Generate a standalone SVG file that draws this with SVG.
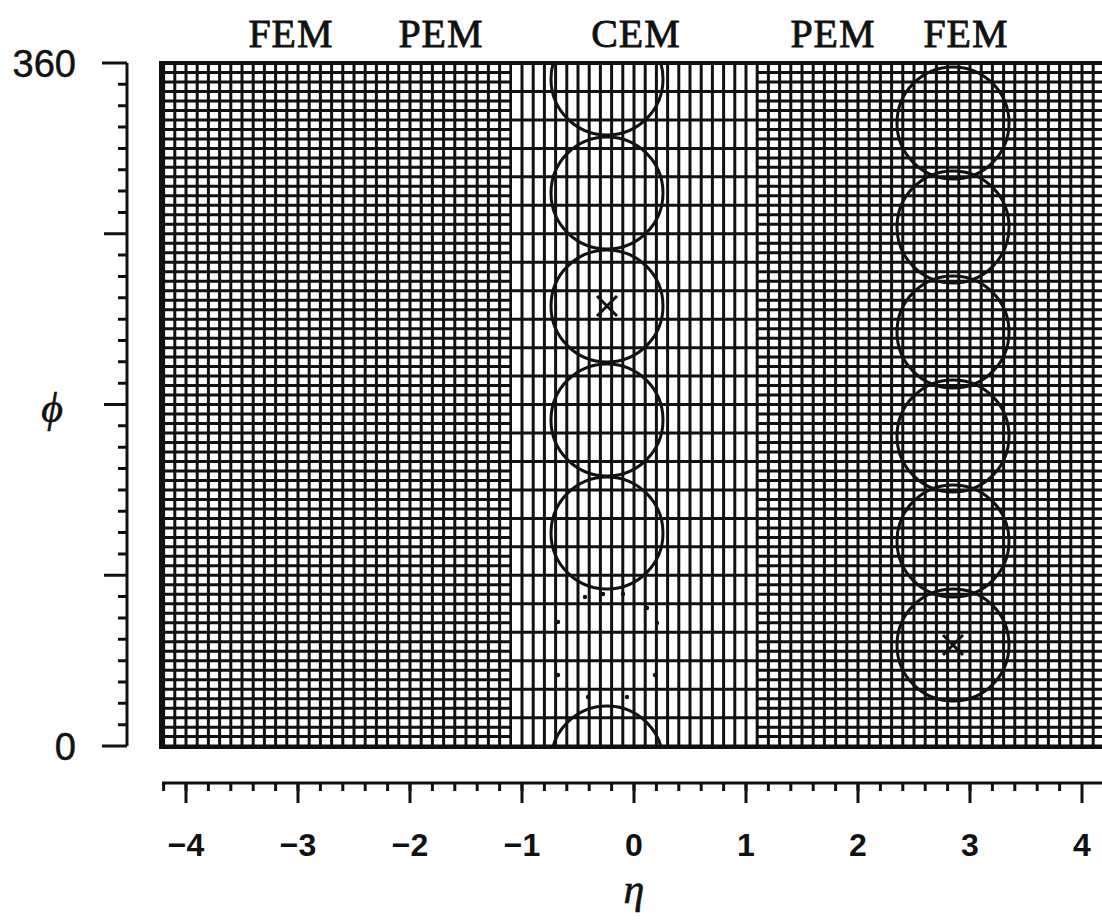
<svg xmlns="http://www.w3.org/2000/svg" width="1102" height="922" viewBox="0 0 1102 922">
<style>
.hl{fill:none;stroke:#111;stroke-dasharray:3 6.4875}
.hc{fill:none;stroke:#111;stroke-dasharray:3 25.4625}
.vl{fill:none;stroke:#111;stroke-width:683;stroke-dasharray:3 8.2}
.ax{fill:none;stroke:#111;stroke-width:3}
.cal{fill:none;stroke:#111;stroke-width:3}
.lab{font-family:"Liberation Serif",serif;font-size:40px;fill:#111;stroke:#111;stroke-width:0.8;letter-spacing:1px}
.num{font-family:"Liberation Sans",Arial,sans-serif;font-weight:bold;font-size:32px;fill:#111}
.ynum{font-family:"Liberation Sans",Arial,sans-serif;font-size:38px;fill:#111;stroke:#111;stroke-width:0.5}
.sym{font-family:"Liberation Serif",serif;font-style:italic;font-size:42px;fill:#111;stroke:#111;stroke-width:0.6}
</style>
<defs>
<clipPath id="plot"><rect x="161" y="63" width="941" height="684"/></clipPath>
</defs>
<rect width="1102" height="922" fill="#fff"/>
<g id="grid" clip-path="url(#plot)">
<path class="vl" d="M162.1 404.5H512"/>
<path class="vl" d="M520.5 404.5H748"/>
<path class="vl" d="M755.7 404.5H1102"/>
<path class="hl" stroke-width="349.8" d="M335.9 61.5V750"/>
<path class="hl" stroke-width="344.8" d="M929.6 61.5V750"/>
<path class="hc" stroke-width="246.4" d="M634 61.5V750"/>
</g>
<rect id="frame" x="161" y="63" width="945" height="684" fill="none" stroke="#111" stroke-width="4"/>
<g id="central-circles" clip-path="url(#plot)">
<circle class="cal" cx="607" cy="79" r="56"/>
<circle class="cal" cx="607" cy="193" r="56"/>
<circle class="cal" cx="607" cy="306" r="56"/>
<circle class="cal" cx="607" cy="420" r="56"/>
<circle class="cal" cx="607" cy="533" r="56"/>
<circle class="cal" cx="607" cy="762" r="56"/>
<path class="cal" stroke-width="3.4" d="M597 296l20 20M617 296l-20 20"/>
</g>
<g id="central-dots" fill="#111">
<circle cx="585" cy="597" r="2.2"/><circle cx="603" cy="594" r="2.2"/><circle cx="623" cy="594" r="2.2"/><circle cx="647" cy="608" r="2.2"/><circle cx="657" cy="623" r="2.2"/><circle cx="558" cy="622" r="2.2"/><circle cx="558" cy="675" r="2.2"/><circle cx="655" cy="675" r="2.2"/><circle cx="588" cy="697" r="2.2"/><circle cx="627" cy="697" r="2.2"/>
</g>
<g id="forward-circles">
<circle class="cal" cx="953" cy="123" r="56"/>
<circle class="cal" cx="953" cy="227" r="56"/>
<circle class="cal" cx="953" cy="332" r="56"/>
<circle class="cal" cx="953" cy="436" r="56"/>
<circle class="cal" cx="953" cy="541" r="56"/>
<circle class="cal" cx="953" cy="645" r="56"/>
<path class="cal" stroke-width="3.4" d="M943 635l20 20M963 635l-20 20"/>
</g>
<g id="region-labels">
<text class="lab" x="291" y="47" text-anchor="middle">FEM</text>
<text class="lab" x="441" y="47" text-anchor="middle">PEM</text>
<text class="lab" x="636" y="47" text-anchor="middle">CEM</text>
<text class="lab" x="833" y="47" text-anchor="middle">PEM</text>
<text class="lab" x="966" y="47" text-anchor="middle">FEM</text>
</g>
<g id="phi-axis">
<path class="ax" d="M127 63V746M102 63h25M102 746h25M104 233.75h23M104 404.5h23M104 575.25h23"/>
<path class="ax" stroke-width="2.5" d="M118 84.34h9M118 105.69h9M118 127.03h9M118 148.38h9M118 169.72h9M118 191.06h9M118 212.41h9M118 255.09h9M118 276.44h9M118 297.78h9M118 319.13h9M118 340.47h9M118 361.81h9M118 383.16h9M118 425.84h9M118 447.19h9M118 468.53h9M118 489.88h9M118 511.22h9M118 532.56h9M118 553.91h9M118 596.59h9M118 617.94h9M118 639.28h9M118 660.63h9M118 681.97h9M118 703.31h9M118 724.66h9"/>
<text class="ynum" x="76" y="77" text-anchor="end">360</text>
<text class="ynum" x="76" y="760" text-anchor="end">0</text>
<text class="sym" x="52" y="422" text-anchor="middle">ϕ</text>
</g>
<g id="eta-axis">
<path class="ax" d="M162 783H1102"/>
<path class="ax" stroke-width="2.5" d="M163.6 783v8m22.4-8v8m22.4-8v8m22.4-8v8m22.4-8v8m22.4-8v8m22.4-8v8m22.4-8v8m22.4-8v8m22.4-8v8m22.4-8v8m22.4-8v8m22.4-8v8m22.4-8v8m22.4-8v8m22.4-8v8m22.4-8v8m22.4-8v8m22.4-8v8m22.4-8v8m22.4-8v8m22.4-8v8m22.4-8v8m22.4-8v8m22.4-8v8m22.4-8v8m22.4-8v8m22.4-8v8m22.4-8v8m22.4-8v8m22.4-8v8m22.4-8v8m22.4-8v8m22.4-8v8m22.4-8v8m22.4-8v8m22.4-8v8m22.4-8v8m22.4-8v8m22.4-8v8m22.4-8v8"/>
<path class="ax" d="M186 783v20M298 783v20M410 783v20M522 783v20M634 783v20M746 783v20M858 783v20M970 783v20M1082 783v20"/>
<text class="num" x="186" y="856" text-anchor="middle">−4</text>
<text class="num" x="298" y="856" text-anchor="middle">−3</text>
<text class="num" x="410" y="856" text-anchor="middle">−2</text>
<text class="num" x="522" y="856" text-anchor="middle">−1</text>
<text class="num" x="634" y="856" text-anchor="middle">0</text>
<text class="num" x="746" y="856" text-anchor="middle">1</text>
<text class="num" x="858" y="856" text-anchor="middle">2</text>
<text class="num" x="970" y="856" text-anchor="middle">3</text>
<text class="num" x="1082" y="856" text-anchor="middle">4</text>
<text class="sym" x="634" y="903" text-anchor="middle">η</text>
</g>
</svg>
